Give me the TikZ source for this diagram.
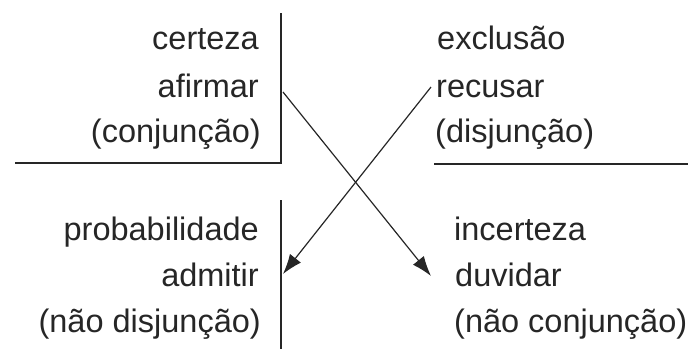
\documentclass[tikz,border=0pt]{standalone}
\usepackage{fontspec}
\setmainfont{Liberation Sans}
\usetikzlibrary{arrows.meta}
\begin{document}
\begin{tikzpicture}[x=1pt,y=-1pt,
  lab/.style={inner sep=0pt,font=\fontsize{32.5}{32.5}\selectfont,text=black!85},
  rule/.style={line width=2.4pt,black!85},
  link/.style={line width=1.2pt,black!85,-{Latex[length=20pt,width=14pt]}}]
\useasboundingbox (0,0) rectangle (688,349);
% structure lines
\coordinate (tlTop) at (281,13);
\coordinate (tlCorner) at (281,163);
\coordinate (tlLeft) at (15,163);
\coordinate (trLeft) at (434,164);
\coordinate (trRight) at (688,164);
\coordinate (blTop) at (281,200);
\coordinate (blBot) at (281,349);
\draw[rule] (tlTop) -- (tlCorner) -- (tlLeft);
\draw[rule] (trLeft) -- (trRight);
\draw[rule] (blTop) -- (blBot);
% top left
\node[lab,anchor=base east] (certeza) at (259,49) {certeza};
\node[lab,anchor=base east] (afirmar) at (259,97) {afirmar};
\node[lab,anchor=base east] (conj) at (261,142) {(conjunção)};
% top right
\node[lab,anchor=base west] (exclusao) at (437,49) {exclusão};
\node[lab,anchor=base west] (recusar) at (436,97) {recusar};
\node[lab,anchor=base west] (disj) at (435,142) {(disjunção)};
% bottom left
\node[lab,anchor=base east] (prob) at (259,240) {probabilidade};
\node[lab,anchor=base east] (admitir) at (259,286) {admitir};
\node[lab,anchor=base east] (naodisj) at (261,332) {(não disjunção)};
% bottom right
\node[lab,anchor=base west] (incerteza) at (454,240) {incerteza};
\node[lab,anchor=base west] (duvidar) at (455,286) {duvidar};
\node[lab,anchor=base west] (naoconj) at (454,332) {(não conjunção)};
% arrows
\coordinate (a1s) at (283,92);
\coordinate (a1e) at (431,276);
\coordinate (a2s) at (431,87);
\coordinate (a2e) at (283,274);
\draw[link] (a1s) -- (a1e);
\draw[link] (a2s) -- (a2e);
\end{tikzpicture}
\end{document}
